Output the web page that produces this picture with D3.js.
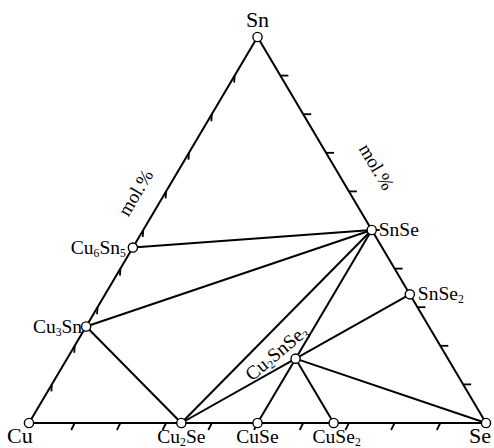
<!DOCTYPE html>
<html>
<head>
<meta charset="utf-8">
<script src="https://cdn.jsdelivr.net/npm/d3@7"></script>
<style>
body { margin: 0; background: #fff; }
svg { display: block; }
</style>
</head>
<body>
<svg id="chart" width="494" height="448"></svg>
<script>
// compositions as [Cu, Sn, Se] mole fractions
const vertices = [
  { name: "Cu", comp: [1, 0, 0] },
  { name: "Sn", comp: [0, 1, 0] },
  { name: "Se", comp: [0, 0, 1] }
];

const phases = [
  { name: "Cu6Sn5", comp: [6 / 11, 5 / 11, 0] },
  { name: "Cu3Sn", comp: [3 / 4, 1 / 4, 0] },
  { name: "SnSe", comp: [0, 1 / 2, 1 / 2] },
  { name: "SnSe2", comp: [0, 1 / 3, 2 / 3] },
  { name: "Cu2Se", comp: [2 / 3, 0, 1 / 3] },
  { name: "CuSe", comp: [1 / 2, 0, 1 / 2] },
  { name: "CuSe2", comp: [1 / 3, 0, 2 / 3] },
  { name: "Cu2SnSe3", comp: [2 / 6, 1 / 6, 3 / 6] }
];

const tieLines = [
  ["Cu6Sn5", "SnSe"],
  ["Cu3Sn", "SnSe"],
  ["Cu3Sn", "Cu2Se"],
  ["Cu2Se", "SnSe"],
  ["Cu2Se", "Cu2SnSe3"],
  ["Cu2SnSe3", "SnSe"],
  ["Cu2SnSe3", "SnSe2"],
  ["Cu2SnSe3", "CuSe"],
  ["Cu2SnSe3", "CuSe2"],
  ["Cu2SnSe3", "Se"]
];

const tickFractions = [0.1, 0.2, 0.3, 0.4, 0.5, 0.6, 0.7, 0.8, 0.9];

const FONT = "'Liberation Serif', 'Times New Roman', 'DejaVu Serif', serif";
const svg = d3.select("#chart");

// ternary -> cartesian
const xScale = d3.scaleLinear().domain([0, 1]).range([29, 486]);
const yScale = d3.scaleLinear().domain([0, 1]).range([423, 37]);

function pos(comp) {
  const sn = comp[1], se = comp[2];
  return [xScale(se + sn * 0.5), yScale(sn)];
}

const byName = {};
vertices.concat(phases).forEach(d => { byName[d.name] = d; });

const pCu = pos([1, 0, 0]), pSn = pos([0, 1, 0]), pSe = pos([0, 0, 1]);

// triangle
svg.append("path")
  .attr("d", `M${pCu}L${pSn}L${pSe}Z`)
  .attr("fill", "none")
  .attr("stroke", "#000")
  .attr("stroke-width", 2)
  .attr("stroke-linejoin", "miter");

// ticks
const tickGroup = svg.append("g").attr("stroke", "#000").attr("stroke-width", 1.8);
tickFractions.forEach(t => {
  // bottom edge Cu-Se
  let p = pos([1 - t, 0, t]);
  tickGroup.append("line").attr("x1", p[0]).attr("y1", p[1]).attr("x2", p[0] - 3.5).attr("y2", p[1] + 7);
  // left edge Cu-Sn
  p = pos([1 - t, t, 0]);
  tickGroup.append("line").attr("x1", p[0]).attr("y1", p[1]).attr("x2", p[0] - 0.5).attr("y2", p[1] + 7);
  // right edge Sn-Se
  p = pos([0, 1 - t, t]);
  tickGroup.append("line").attr("x1", p[0]).attr("y1", p[1]).attr("x2", p[0] + 8).attr("y2", p[1]);
});

// tie lines
svg.append("g")
  .selectAll("line")
  .data(tieLines)
  .join("line")
  .attr("x1", d => pos(byName[d[0]].comp)[0])
  .attr("y1", d => pos(byName[d[0]].comp)[1])
  .attr("x2", d => pos(byName[d[1]].comp)[0])
  .attr("y2", d => pos(byName[d[1]].comp)[1])
  .attr("stroke", "#000")
  .attr("stroke-width", 2);

// points
svg.append("g")
  .selectAll("circle")
  .data(vertices.concat(phases))
  .join("circle")
  .attr("cx", d => pos(d.comp)[0])
  .attr("cy", d => pos(d.comp)[1])
  .attr("r", 4.6)
  .attr("fill", "#fff")
  .attr("stroke", "#000")
  .attr("stroke-width", 1.4);

// labels: parts of [text, isSub]
function label(parts, x, y, anchor, size, rotate) {
  const t = svg.append("text")
    .attr("x", x).attr("y", y)
    .attr("text-anchor", anchor)
    .attr("font-family", FONT)
    .attr("font-size", size)
    .attr("fill", "#000");
  if (rotate) t.attr("transform", `rotate(${rotate},${x},${y})`);
  let prevSub = false;
  parts.forEach(pt => {
    const sp = t.append("tspan").text(pt[0]);
    if (pt[1]) {
      sp.attr("font-size", size * 0.6).attr("dy", 3);
      prevSub = true;
    } else if (prevSub) {
      sp.attr("dy", -3);
      prevSub = false;
    }
  });
  return t;
}

label([["Sn"]], pSn[0], 27, "middle", 22);
label([["Cu"]], 7, 443, "start", 22);
label([["Se"]], 491, 443, "end", 22);

const lblSize = 19.5;
let p = pos(byName["Cu6Sn5"].comp);
label([["Cu"], ["6", 1], ["Sn"], ["5", 1]], p[0] - 7, p[1] + 6, "end", lblSize);
p = pos(byName["Cu3Sn"].comp);
label([["Cu"], ["3", 1], ["Sn"]], p[0] - 4, p[1] + 6, "end", lblSize);
p = pos(byName["SnSe"].comp);
label([["SnSe"]], p[0] + 7, p[1] + 6, "start", lblSize);
p = pos(byName["SnSe2"].comp);
label([["SnSe"], ["2", 1]], p[0] + 8, p[1] + 6, "start", lblSize);
p = pos(byName["Cu2Se"].comp);
label([["Cu"], ["2", 1], ["Se"]], p[0], 443, "middle", lblSize);
p = pos(byName["CuSe"].comp);
label([["CuSe"]], p[0], 443, "middle", lblSize);
p = pos(byName["CuSe2"].comp);
label([["CuSe"], ["2", 1]], p[0] + 3, 443, "middle", lblSize);
p = pos(byName["Cu2SnSe3"].comp);
label([["Cu"], ["2", 1], ["SnSe"], ["3", 1]], p[0] - 15, p[1] - 1, "middle", lblSize, -40);

// axis unit labels
const edgeAngle = Math.atan2(pCu[1] - pSn[1], pSn[0] - pCu[0]) * 180 / Math.PI;
label([["mol.%"]], 141, 196, "middle", 19, -edgeAngle);
label([["mol.%"]], 371, 170, "middle", 19, edgeAngle);
</script>
</body>
</html>
